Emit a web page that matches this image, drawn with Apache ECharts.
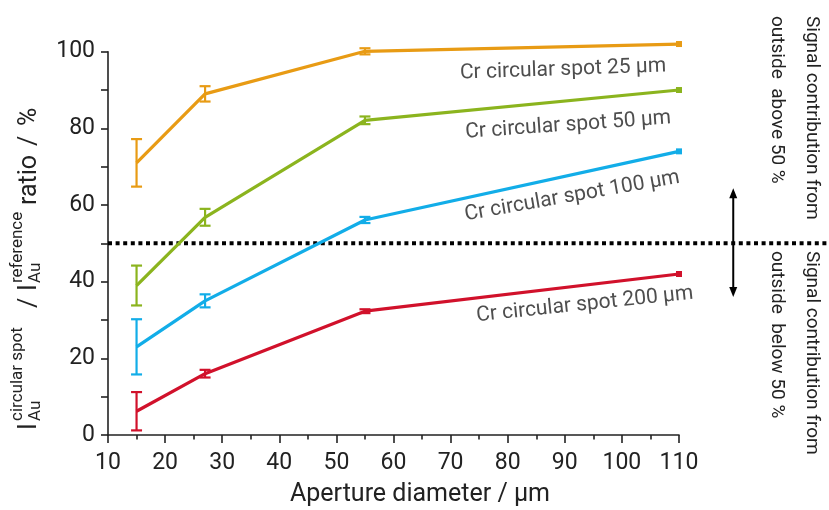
<!DOCTYPE html>
<html>
<head>
<meta charset="utf-8">
<script src="https://cdn.jsdelivr.net/npm/echarts@6/dist/echarts.min.js"></script>
<style>
html,body{margin:0;padding:0;background:#fff;}
#c{width:829px;height:510px;}
</style>
</head>
<body>
<div id="c"></div>
<script>
// ---- data ----
const apertures = [15, 27, 55, 110];
const seriesNames = ['Cr circular spot 25 µm', 'Cr circular spot 50 µm', 'Cr circular spot 100 µm', 'Cr circular spot 200 µm'];
const spot25 = [71, 89, 100.1, 102];
const spot50 = [39, 56.8, 82.1, 90];
const spot100 = [23, 35, 56.1, 74];
const spot200 = [6.2, 16, 32.3, 42];
const err25 = [6.2, 2.0, 0.8, 0];
const err50 = [5.2, 2.2, 1.0, 0];
const err100 = [7.2, 1.7, 0.8, 0];
const err200 = [5.0, 1.0, 0.5, 0];
const xTicks = [10, 20, 30, 40, 50, 60, 70, 80, 90, 100, 110];
const yTicks = [0, 20, 40, 60, 80, 100];
const threshold = 50;
// label anchors (data coords) and rotation
const labelAnchors = [[89.7, 95.3], [90.6, 80.8], [91.3, 62.3], [93.5, 34.0]];
const labelRotate = [2, 4, 10, 6];
// arrow annotation (data coords)
const arrowX = 119.5, arrowLow = 36, arrowHigh = 64.4;
const refLineEnd = 136.5;

const colors = ['#E89B14', '#8BB41E', '#12ADE8', '#D1112B'];
const values = [spot25, spot50, spot100, spot200];
const errs = [err25, err50, err100, err200];
const FONT = 'Roboto';
const TXT = '#222';

const series = [];
values.forEach((vals, i) => {
  series.push({
    type: 'line',
    name: seriesNames[i],
    data: vals.map((v, j) => j === vals.length - 1
      ? { value: [apertures[j], v], symbol: 'rect', symbolSize: 6 }
      : { value: [apertures[j], v], symbol: 'none' }),
    symbol: 'none',
    lineStyle: { color: colors[i], width: 3.2 },
    itemStyle: { color: colors[i] },
    clip: false,
    silent: true,
    z: 3
  });
  const ed = [];
  vals.forEach((v, j) => { if (errs[i][j] > 0) ed.push([apertures[j], v - errs[i][j], v + errs[i][j]]); });
  series.push({
    type: 'custom',
    data: ed,
    clip: false,
    silent: true,
    z: 4,
    renderItem: (params, api) => {
      const x = api.value(0), lo = api.value(1), hi = api.value(2);
      const p1 = api.coord([x, hi]), p2 = api.coord([x, lo]);
      const w = 5.5;
      const st = { stroke: colors[i], lineWidth: 2.2 };
      return { type: 'group', children: [
        { type: 'line', shape: { x1: p1[0], y1: p1[1], x2: p2[0], y2: p2[1] }, style: st },
        { type: 'line', shape: { x1: p1[0] - w, y1: p1[1], x2: p1[0] + w, y2: p1[1] }, style: st },
        { type: 'line', shape: { x1: p2[0] - w, y1: p2[1], x2: p2[0] + w, y2: p2[1] }, style: st }
      ]};
    }
  });
});

// dotted 50% line
series.push({
  type: 'custom', data: [[xTicks[0], threshold, refLineEnd]], clip: false, silent: true, z: 2,
  renderItem: (params, api) => {
    const a = api.coord([api.value(0), api.value(1)]);
    const b = api.coord([api.value(2), api.value(1)]);
    return { type: 'line', shape: { x1: a[0], y1: a[1], x2: b[0], y2: b[1] },
      style: { stroke: '#000', lineWidth: 4, lineDash: [4, 3.6] } };
  }
});
// double arrow
series.push({
  type: 'custom', data: [[arrowX, arrowLow, arrowHigh]], clip: false, silent: true, z: 2,
  renderItem: (params, api) => {
    const t = api.coord([api.value(0), api.value(2)]);
    const b = api.coord([api.value(0), api.value(1)]);
    const hw = 4, hl = 10;
    return { type: 'group', children: [
      { type: 'line', shape: { x1: t[0], y1: t[1] + 4, x2: b[0], y2: b[1] - 4 }, style: { stroke: '#000', lineWidth: 2 } },
      { type: 'polygon', shape: { points: [[t[0], t[1]], [t[0] - hw, t[1] + hl], [t[0] + hw, t[1] + hl]] }, style: { fill: '#000' } },
      { type: 'polygon', shape: { points: [[b[0], b[1]], [b[0] - hw, b[1] - hl], [b[0] + hw, b[1] - hl]] }, style: { fill: '#000' } }
    ]};
  }
});
// series labels
series.push({
  type: 'scatter', symbolSize: 0, silent: true, clip: false, z: 5,
  data: labelAnchors.map((p, i) => ({ value: p, label: { formatter: seriesNames[i], rotate: labelRotate[i] } })),
  label: { show: true, position: 'inside', color: TXT, fontFamily: FONT, fontSize: 21 }
});

const chart = echarts.init(document.getElementById('c'), null, { renderer: 'canvas' });
chart.setOption({
  animation: false,
  backgroundColor: '#fff',
  grid: { left: 108, right: 150, top: 51.7, bottom: 75, containLabel: false, outerBoundsMode: 'none' },
  xAxis: {
    type: 'value', min: xTicks[0], max: xTicks[xTicks.length - 1], interval: 10,
    axisLine: { show: true, lineStyle: { color: TXT, width: 1.6 } },
    axisTick: { show: true, inside: false, length: 8, lineStyle: { color: TXT, width: 1.6 } },
    minorTick: { show: true, splitNumber: 2, length: 4.5, lineStyle: { color: TXT, width: 1.6 } },
    splitLine: { show: false },
    axisLabel: { color: TXT, fontFamily: FONT, fontSize: 23, margin: 17 }
  },
  yAxis: {
    type: 'value', min: yTicks[0], max: yTicks[yTicks.length - 1], interval: 10,
    axisLine: { show: true, lineStyle: { color: TXT, width: 1.6 } },
    axisTick: { show: true, inside: false, length: 7, lineStyle: { color: TXT, width: 1.6 } },
    splitLine: { show: false },
    axisLabel: { color: TXT, fontFamily: FONT, fontSize: 23, margin: 13,
      formatter: v => yTicks.indexOf(v) >= 0 ? String(v) : '' }
  },
  graphic: [
    { type: 'text', x: 420, y: 495, silent: true,
      style: { text: 'Aperture diameter / µm', fill: TXT, font: '25px Roboto', align: 'center', verticalAlign: 'middle' } },
    { type: 'text', x: 829, y: 16, rotation: -Math.PI / 2, silent: true,
      style: { text: 'Signal contribution from\noutside  above 50 %', fill: TXT, fontFamily: FONT, fontSize: 19, lineHeight: 35, align: 'left', verticalAlign: 'top' } },
    { type: 'text', x: 829, y: 251, rotation: -Math.PI / 2, silent: true,
      style: { text: 'Signal contribution from\noutside  below 50 %', fill: TXT, fontFamily: FONT, fontSize: 19, lineHeight: 35, align: 'left', verticalAlign: 'top' } },
    { type: 'group', x: 0, y: 430, rotation: Math.PI / 2, silent: true, children: [
      { type: 'text', x: 0, y: 30, style: { text: 'I', fill: TXT, fontFamily: FONT, fontSize: 25, align: 'left', verticalAlign: 'middle' } },
      { type: 'text', x: 9, y: 36, style: { text: 'Au', fill: TXT, fontFamily: FONT, fontSize: 17, align: 'left', verticalAlign: 'middle' } },
      { type: 'text', x: 9, y: 18, style: { text: 'circular spot', fill: TXT, fontFamily: FONT, fontSize: 17, align: 'left', verticalAlign: 'middle' } },
      { type: 'text', x: 122, y: 30, style: { text: '/', fill: TXT, fontFamily: FONT, fontSize: 25, align: 'left', verticalAlign: 'middle' } },
      { type: 'text', x: 139, y: 30, style: { text: 'I', fill: TXT, fontFamily: FONT, fontSize: 25, align: 'left', verticalAlign: 'middle' } },
      { type: 'text', x: 147, y: 36, style: { text: 'Au', fill: TXT, fontFamily: FONT, fontSize: 17, align: 'left', verticalAlign: 'middle' } },
      { type: 'text', x: 147, y: 18, style: { text: 'reference', fill: TXT, fontFamily: FONT, fontSize: 17, align: 'left', verticalAlign: 'middle' } },
      { type: 'text', x: 225, y: 30, style: { text: 'ratio', fill: TXT, fontFamily: FONT, fontSize: 25, align: 'left', verticalAlign: 'middle' } },
      { type: 'text', x: 284, y: 30, style: { text: '/', fill: TXT, fontFamily: FONT, fontSize: 25, align: 'left', verticalAlign: 'middle' } },
      { type: 'text', x: 304, y: 30, style: { text: '%', fill: TXT, fontFamily: FONT, fontSize: 25, align: 'left', verticalAlign: 'middle' } }
    ]}
  ],
  series: series
});
</script>
</body>
</html>
